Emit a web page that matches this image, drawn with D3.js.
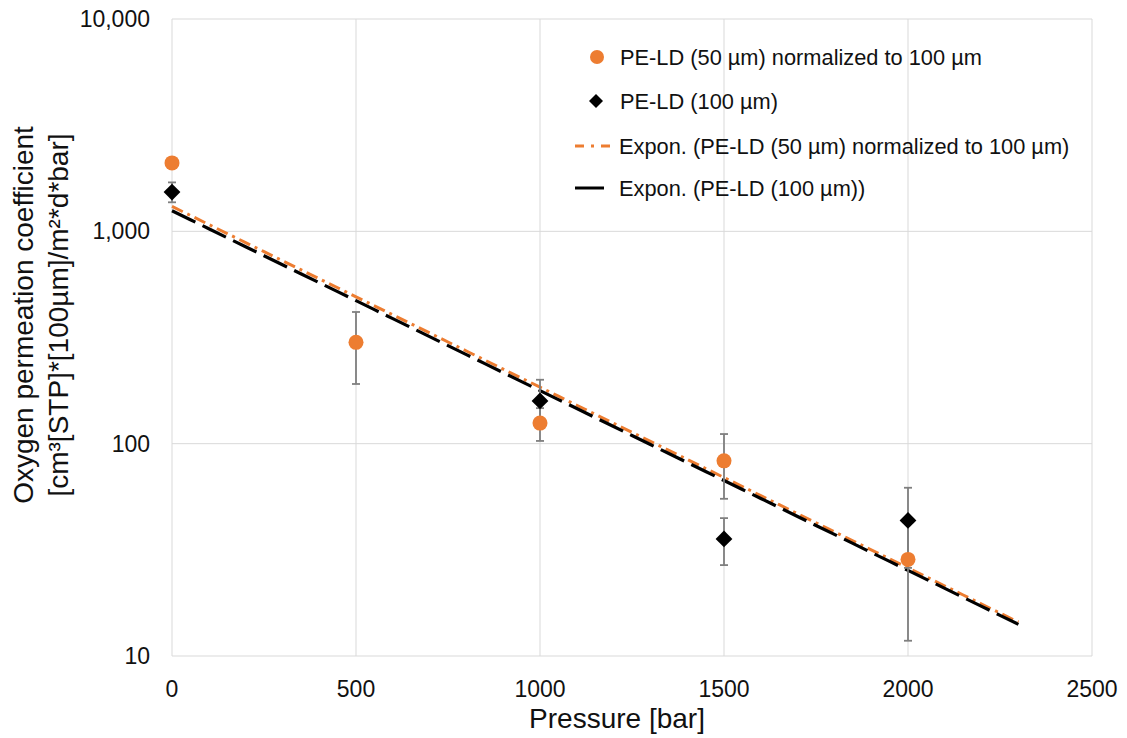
<!DOCTYPE html>
<html><head><meta charset="utf-8">
<script src="https://cdn.jsdelivr.net/npm/d3@7"></script>
<style>body{margin:0;background:#fff;font-family:"Liberation Sans",Arial,sans-serif;}</style>
</head><body><svg id="c" width="1127" height="738"></svg>
<script>
// Data
const xTicks = [0, 500, 1000, 1500, 2000, 2500];
const yTicks = [10, 100, 1000, 10000];
const pressureOrange = [0, 500, 1000, 1500, 2000];
const valuesOrange = [2100, 300, 125, 83, 28.5];
const errLowOrange = [2100, 191, 103, 55, 11.8];
const errHighOrange = [2100, 417, 147, 111, 45];
const pressureBlack = [0, 1000, 1500, 2000];
const valuesBlack = [1530, 159, 35.6, 43.5];
const errLowBlack = [1370, 120, 26.8, 26];
const errHighBlack = [1700, 200, 44.6, 62];
const trendOrange = {a: 1310, b: -0.00196};
const trendBlack = {a: 1250, b: -0.00195};
const trendRange = [0, 2300];
const legendLabels = ["PE-LD (50 µm) normalized to 100 µm", "PE-LD (100 µm)",
  "Expon. (PE-LD (50 µm) normalized to 100 µm)", "Expon. (PE-LD (100 µm))"];

const svg = d3.select("#c");
const L = 172, R = 1092, T = 19, B = 656;
const x = d3.scaleLinear().domain([0, 2500]).range([L, R]);
const y = d3.scaleLog().domain([10, 10000]).range([B, T]);
const orange = "#ED7D31", grid = "#d9d9d9", txt = "#111";

// gridlines
svg.append("g").selectAll("line").data(yTicks).join("line")
  .attr("x1", L).attr("x2", R).attr("y1", d => y(d)).attr("y2", d => y(d))
  .attr("stroke", grid).attr("stroke-width", 1);
svg.append("g").selectAll("line").data(xTicks).join("line")
  .attr("y1", T).attr("y2", B).attr("x1", d => x(d)).attr("x2", d => x(d))
  .attr("stroke", grid).attr("stroke-width", 1);

// tick labels
svg.append("g").selectAll("text").data(yTicks).join("text")
  .attr("x", L - 22).attr("y", d => y(d) + 8).attr("text-anchor", "end")
  .attr("font-size", 23).attr("fill", txt).text(d => d3.format(",")(d));
svg.append("g").selectAll("text").data(xTicks).join("text")
  .attr("x", d => x(d)).attr("y", B + 41).attr("text-anchor", "middle")
  .attr("font-size", 23).attr("fill", txt).text(d => d);

// axis titles
svg.append("text").attr("x", 617).attr("y", 728).attr("text-anchor", "middle")
  .attr("font-size", 28).attr("fill", txt).text("Pressure [bar]");
const yt = svg.append("text").attr("transform", "translate(0,315) rotate(-90)")
  .attr("text-anchor", "middle").attr("font-size", 28).attr("fill", txt);
yt.append("tspan").attr("x", 0).attr("y", 33).text("Oxygen permeation coefficient");
yt.append("tspan").attr("x", 0).attr("y", 68).text("[cm³[STP]*[100µm]/m²*d*bar]");

// trendlines
function trendPts(t) {
  return d3.range(trendRange[0], trendRange[1] + 1, 50).map(p => [p, t.a * Math.exp(t.b * p)]);
}
const line = d3.line().x(d => x(d[0])).y(d => y(d[1]));
svg.append("path").attr("d", line(trendPts(trendOrange))).attr("fill", "none")
  .attr("stroke", orange).attr("stroke-width", 3).attr("stroke-dasharray", "12,5,3,5");
svg.append("path").attr("d", line(trendPts(trendBlack))).attr("fill", "none")
  .attr("stroke", "#000").attr("stroke-width", 3.2).attr("stroke-dasharray", "26,8");

// error bars
function errBars(px, lo, hi) {
  const g = svg.append("g").attr("stroke", "#7f7f7f").attr("stroke-width", 1.8);
  px.forEach((p, i) => {
    if (hi[i] === lo[i]) return;
    g.append("line").attr("x1", x(p)).attr("x2", x(p)).attr("y1", y(lo[i])).attr("y2", y(hi[i]));
    [lo[i], hi[i]].forEach(v => g.append("line").attr("x1", x(p) - 4).attr("x2", x(p) + 4)
      .attr("y1", y(v)).attr("y2", y(v)));
  });
}
errBars(pressureOrange, errLowOrange, errHighOrange);
errBars(pressureBlack, errLowBlack, errHighBlack);

// markers
svg.append("g").selectAll("circle").data(pressureOrange).join("circle")
  .attr("cx", d => x(d)).attr("cy", (d, i) => y(valuesOrange[i])).attr("r", 7.5).attr("fill", orange);
const diamond = d3.symbol().type(d3.symbolDiamond2).size(180);
svg.append("g").selectAll("path").data(pressureBlack).join("path")
  .attr("d", diamond).attr("transform", (d, i) => `translate(${x(d)},${y(valuesBlack[i])})`).attr("fill", "#000");

// legend
const lg = svg.append("g");
const ly = [57, 101, 146, 188];
lg.append("circle").attr("cx", 597).attr("cy", ly[0]).attr("r", 7).attr("fill", orange);
lg.append("path").attr("d", d3.symbol().type(d3.symbolDiamond2).size(125))
  .attr("transform", `translate(596,${ly[1]})`).attr("fill", "#000");
lg.append("line").attr("x1", 575).attr("x2", 617).attr("y1", ly[2]).attr("y2", ly[2])
  .attr("stroke", orange).attr("stroke-width", 3).attr("stroke-dasharray", "9,7,3,7");
lg.append("line").attr("x1", 575).attr("x2", 604).attr("y1", ly[3]).attr("y2", ly[3])
  .attr("stroke", "#000").attr("stroke-width", 3);
lg.selectAll("text").data(legendLabels).join("text")
  .attr("x", (d, i) => i >= 2 ? 619 : 620).attr("y", (d, i) => ly[i] + 8)
  .attr("font-size", 21.8).attr("fill", txt).text(d => d);
</script></body></html>
